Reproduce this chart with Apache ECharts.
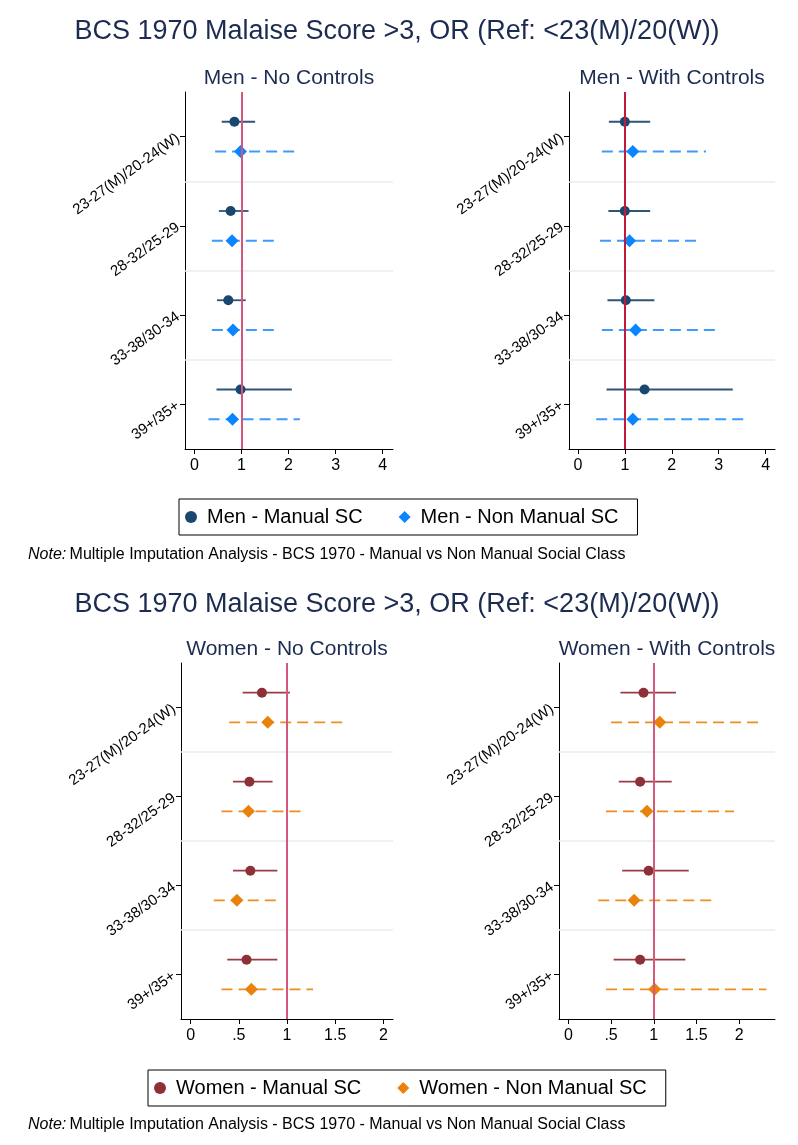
<!DOCTYPE html>
<html>
<head>
<meta charset="utf-8">
<script src="https://cdn.jsdelivr.net/npm/echarts@6/dist/echarts.min.js"></script>
<style>
html,body{margin:0;padding:0;background:#fff;}
#chart{width:798px;height:1145px;}
</style>
</head>
<body>
<div id="chart"></div>
<script>
// ---------- DATA ----------
const categories = ['23-27(M)/20-24(W)', '28-32/25-29', '33-38/30-34', '39+/35+'];

const menTicks = [0, 1, 2, 3, 4];
const menTickLabels = ['0', '1', '2', '3', '4'];
const womenTicks = [0, 0.5, 1, 1.5, 2];
const womenTickLabels = ['0', '.5', '1', '1.5', '2'];

// Men - No Controls
const menNoCtrlManualOR = [0.85, 0.77, 0.72, 0.98];
const menNoCtrlManualLo = [0.58, 0.52, 0.48, 0.47];
const menNoCtrlManualHi = [1.29, 1.15, 1.09, 2.07];
const menNoCtrlNonManualOR = [0.98, 0.80, 0.82, 0.81];
const menNoCtrlNonManualLo = [0.44, 0.37, 0.37, 0.30];
const menNoCtrlNonManualHi = [2.17, 1.73, 1.73, 2.24];

// Men - With Controls
const menCtrlManualOR = [1.00, 1.00, 1.02, 1.42];
const menCtrlManualLo = [0.66, 0.65, 0.63, 0.61];
const menCtrlManualHi = [1.54, 1.54, 1.63, 3.30];
const menCtrlNonManualOR = [1.17, 1.10, 1.23, 1.17];
const menCtrlNonManualLo = [0.51, 0.47, 0.51, 0.39];
const menCtrlNonManualHi = [2.73, 2.54, 2.94, 3.62];

// Women - No Controls
const womenNoCtrlManualOR = [0.74, 0.61, 0.62, 0.58];
const womenNoCtrlManualLo = [0.54, 0.44, 0.44, 0.38];
const womenNoCtrlManualHi = [1.03, 0.85, 0.90, 0.90];
const womenNoCtrlNonManualOR = [0.80, 0.60, 0.48, 0.63];
const womenNoCtrlNonManualLo = [0.40, 0.32, 0.24, 0.32];
const womenNoCtrlNonManualHi = [1.60, 1.16, 0.90, 1.27];

// Women - With Controls
const womenCtrlManualOR = [0.88, 0.84, 0.94, 0.84];
const womenCtrlManualLo = [0.61, 0.59, 0.63, 0.53];
const womenCtrlManualHi = [1.26, 1.21, 1.41, 1.37];
const womenCtrlNonManualOR = [1.07, 0.92, 0.77, 1.01];
const womenCtrlNonManualLo = [0.50, 0.44, 0.35, 0.44];
const womenCtrlNonManualHi = [2.25, 1.94, 1.68, 2.32];

const refValue = 1;

// ---------- LAYOUT / STYLE ----------
const FONT = '"Liberation Sans", Arial, Helvetica, sans-serif';
const NAVY = '#1c2b50';
const SEP = '#e7edef';

const panels = [
  { title: 'Men - No Controls', grid: {left:185, top:92, width:208, height:357}, xMin:-0.2, xMax:4.22,
    ticks: menTicks, tickLabels: menTickLabels, ref:'#d2577a',
    man: [menNoCtrlManualOR, menNoCtrlManualLo, menNoCtrlManualHi],
    non: [menNoCtrlNonManualOR, menNoCtrlNonManualLo, menNoCtrlNonManualHi], sex:'men' },
  { title: 'Men - With Controls', grid: {left:569, top:92, width:206, height:357}, xMin:-0.19, xMax:4.2,
    ticks: menTicks, tickLabels: menTickLabels, ref:'#c01a3c',
    man: [menCtrlManualOR, menCtrlManualLo, menCtrlManualHi],
    non: [menCtrlNonManualOR, menCtrlNonManualLo, menCtrlNonManualHi], sex:'men' },
  { title: 'Women - No Controls', grid: {left:181, top:663, width:212, height:356}, xMin:-0.1, xMax:2.1,
    ticks: womenTicks, tickLabels: womenTickLabels, ref:'#d4587c',
    man: [womenNoCtrlManualOR, womenNoCtrlManualLo, womenNoCtrlManualHi],
    non: [womenNoCtrlNonManualOR, womenNoCtrlNonManualLo, womenNoCtrlNonManualHi], sex:'women' },
  { title: 'Women - With Controls', grid: {left:559, top:663, width:216, height:356}, xMin:-0.11, xMax:2.42,
    ticks: womenTicks, tickLabels: womenTickLabels, ref:'#d4587c',
    man: [womenCtrlManualOR, womenCtrlManualLo, womenCtrlManualHi],
    non: [womenCtrlNonManualOR, womenCtrlNonManualLo, womenCtrlNonManualHi], sex:'women' }
];

const styles = {
  men: { manName:'Men - Manual SC', nonName:'Men - Non Manual SC',
         manMarker:'#1a476f', manLine:'#2f5579', nonMarker:'#0a84ff', nonLine:'#3c9cf8' },
  women: { manName:'Women - Manual SC', nonName:'Women - Non Manual SC',
         manMarker:'#8e3038', manLine:'#9a3c45', nonMarker:'#e8820a', nonLine:'#ee8d22' }
};

const catTickValues = categories.map((c, i) => 3 * i + 1.5);

const grids = [], xAxes = [], yAxes = [], series = [], graphics = [];

function ciRender(color, dashed) {
  return function (params, api) {
    const a = api.coord([api.value(0), api.value(2)]);
    const b = api.coord([api.value(1), api.value(2)]);
    return { type: 'line', shape: { x1: a[0], y1: a[1], x2: b[0], y2: b[1] },
      style: { stroke: color, lineWidth: 1.8, lineDash: dashed ? [11, 6] : null } };
  };
}

panels.forEach((p, k) => {
  const st = styles[p.sex];
  grids.push(Object.assign({ containLabel: false }, p.grid));
  xAxes.push({
    type: 'value', gridIndex: k, min: p.xMin, max: p.xMax,
    axisLine: { show: true, onZero: false, lineStyle: { color: '#000', width: 1 } },
    axisTick: { show: true, length: 5, lineStyle: { color: '#000' }, customValues: p.ticks },
    axisLabel: { show: true, customValues: p.ticks, margin: 9, color: '#000', fontSize: 16, fontFamily: FONT,
      formatter: v => { const i = p.ticks.indexOf(v); return i >= 0 ? p.tickLabels[i] : ''; } },
    splitLine: { show: false }
  });
  yAxes.push({
    type: 'value', gridIndex: k, min: 0, max: 12, inverse: true,
    axisLine: { show: true, onZero: false, lineStyle: { color: '#000', width: 1 } },
    axisTick: { show: true, length: 5, lineStyle: { color: '#000' }, customValues: catTickValues },
    axisLabel: { show: true, customValues: catTickValues, rotate: 36, margin: 7, color: '#000', fontSize: 15, fontFamily: FONT,
      formatter: v => categories[Math.round((v - 1.5) / 3)] || '' },
    splitLine: { show: false }
  });

  // separators and reference line
  series.push({
    type: 'scatter', name: 'ref' + k, xAxisIndex: k, yAxisIndex: k, data: [], z: 1, silent: true,
    markLine: { silent: true, symbol: 'none', animation: false, label: { show: false },
      data: [
        { yAxis: 3, lineStyle: { color: SEP, width: 1.5, type: 'solid' } },
        { yAxis: 6, lineStyle: { color: SEP, width: 1.5, type: 'solid' } },
        { yAxis: 9, lineStyle: { color: SEP, width: 1.5, type: 'solid' } },
        { xAxis: refValue, lineStyle: { color: p.ref, width: 2, type: 'solid' } }
      ] }
  });

  const manCI = categories.map((c, i) => [p.man[1][i], p.man[2][i], 3 * i + 1]);
  const nonCI = categories.map((c, i) => [p.non[1][i], p.non[2][i], 3 * i + 2]);
  series.push({ type: 'custom', name: 'ci-man' + k, xAxisIndex: k, yAxisIndex: k, z: 2, silent: true,
    renderItem: ciRender(st.manLine, false), encode: { x: [0, 1], y: 2 }, data: manCI, animation: false });
  series.push({ type: 'custom', name: 'ci-non' + k, xAxisIndex: k, yAxisIndex: k, z: 2, silent: true,
    renderItem: ciRender(st.nonLine, true), encode: { x: [0, 1], y: 2 }, data: nonCI, animation: false });

  series.push({ type: 'scatter', name: st.manName, xAxisIndex: k, yAxisIndex: k, z: 3,
    symbol: 'circle', symbolSize: 10, itemStyle: { color: st.manMarker, opacity: 1 },
    data: categories.map((c, i) => [p.man[0][i], 3 * i + 1]), animation: false });
  series.push({ type: 'scatter', name: st.nonName, xAxisIndex: k, yAxisIndex: k, z: 3,
    symbol: 'diamond', symbolSize: 13, itemStyle: { color: st.nonMarker, opacity: 1 },
    data: categories.map((c, i) => [p.non[0][i], 3 * i + 2]), animation: false });

  graphics.push({ type: 'text', x: p.grid.left + p.grid.width / 2, y: p.grid.top - 14,
    style: { text: p.title, fill: NAVY, font: '21px ' + FONT, textAlign: 'center', textVerticalAlign: 'middle' } });
});

const mainTitle = 'BCS 1970 Malaise Score >3, OR (Ref: <23(M)/20(W))';
const noteText = 'Multiple Imputation Analysis - BCS 1970 - Manual vs Non Manual Social Class';

[[32, 555], [605, 1125]].forEach(([ty, ny]) => {
  graphics.push({ type: 'text', x: 397, y: ty,
    style: { text: mainTitle, fill: NAVY, font: '27px ' + FONT, textAlign: 'center', textVerticalAlign: 'middle' } });
  graphics.push({ type: 'text', x: 28, y: ny,
    style: { text: '{i|Note:} {n|' + noteText + '}', textVerticalAlign: 'middle',
      rich: { i: { fontStyle: 'italic', fontSize: 16, fontFamily: FONT, fill: '#000' },
              n: { fontSize: 16, fontFamily: FONT, fill: '#000' } } } });
});

const legendBase = {
  orient: 'horizontal', itemWidth: 12, itemHeight: 12, itemGap: 36,
  borderColor: '#000', borderWidth: 1, backgroundColor: '#fff',
  padding: [8, 19, 8, 6], selectedMode: false,
  textStyle: { color: '#000', fontSize: 20, fontFamily: FONT, padding: [0, 0, 0, 5] }
};

const option = {
  backgroundColor: '#fff',
  animation: false,
  grid: grids, xAxis: xAxes, yAxis: yAxes, series: series,
  legend: [
    Object.assign({}, legendBase, { data: ['Men - Manual SC', 'Men - Non Manual SC'], left: 179, top: 499 }),
    Object.assign({}, legendBase, { data: ['Women - Manual SC', 'Women - Non Manual SC'], left: 148, top: 1070 })
  ],
  graphic: graphics
};

const chart = echarts.init(document.getElementById('chart'), null, { renderer: 'canvas' });
chart.setOption(option);
</script>
</body>
</html>
